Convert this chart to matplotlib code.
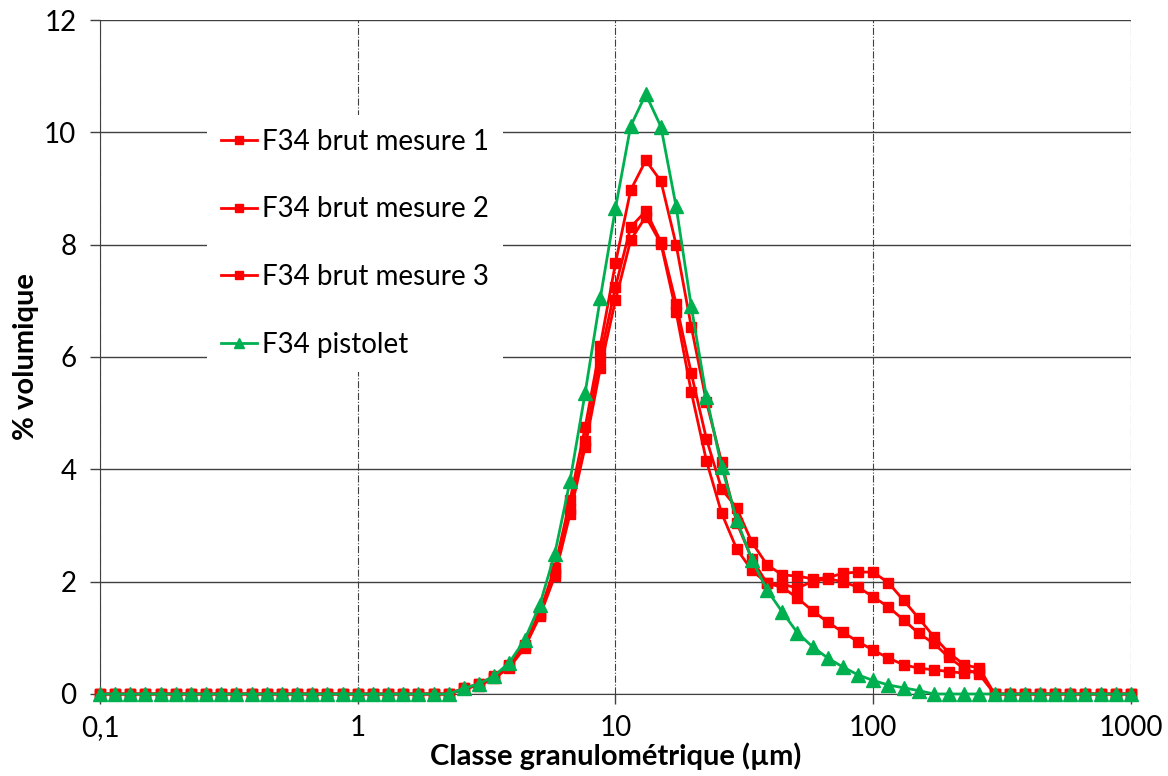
import matplotlib
matplotlib.use('Agg')
import matplotlib.pyplot as plt
from matplotlib.ticker import NullLocator

plt.rcParams['font.family'] = ['Lato', 'DejaVu Sans']

# particle size classes (µm), log spaced
classes = [
    0.1, 0.1145, 0.1311, 0.1501, 0.1719, 0.1968, 0.2254, 0.2581, 0.2955, 0.3384,
    0.3875, 0.4437, 0.508, 0.5817, 0.6661, 0.7627, 0.8733,
    1.0, 1.145, 1.311, 1.501, 1.719, 1.968, 2.254, 2.581, 2.955, 3.384,
    3.875, 4.437, 5.08, 5.817, 6.661, 7.627, 8.733,
    10.0, 11.45, 13.11, 15.01, 17.19, 19.68, 22.54, 25.81, 29.55, 33.84,
    38.75, 44.37, 50.8, 58.17, 66.61, 76.27, 87.33,
    100.0, 114.5, 131.1, 150.1, 171.9, 196.8, 225.4, 258.1, 295.5, 338.4,
    387.5, 443.7, 508.0, 581.7, 666.1, 762.7, 873.3,
    1000.0,
]

brut_1 = [
    0, 0, 0, 0, 0, 0, 0, 0, 0, 0, 0, 0, 0, 0, 0, 0, 0,
    0, 0, 0, 0, 0, 0, 0, 0.10, 0.18, 0.32, 0.52, 0.88, 1.45, 2.25, 3.45, 4.75, 6.2,
    7.67, 8.97, 9.5, 9.13, 8.0, 6.54, 5.2, 4.13, 3.05, 2.4, 1.97, 1.9, 1.71, 1.48, 1.28, 1.1, 0.93,
    0.78, 0.64, 0.52, 0.46, 0.43, 0.40, 0.37, 0.42, 0, 0, 0, 0, 0, 0, 0, 0, 0,
    0,
]
brut_2 = [
    0, 0, 0, 0, 0, 0, 0, 0, 0, 0, 0, 0, 0, 0, 0, 0, 0,
    0, 0, 0, 0, 0, 0, 0, 0.08, 0.17, 0.30, 0.50, 0.85, 1.40, 2.15, 3.3, 4.5, 6.0,
    7.25, 8.31, 8.6, 8.05, 6.95, 5.71, 4.54, 3.65, 3.31, 2.7, 2.3, 2.12, 2.1, 2.05, 2.07, 2.15, 2.17,
    2.17, 1.98, 1.67, 1.35, 1.02, 0.73, 0.52, 0.46, 0, 0, 0, 0, 0, 0, 0, 0, 0,
    0,
]
brut_3 = [
    0, 0, 0, 0, 0, 0, 0, 0, 0, 0, 0, 0, 0, 0, 0, 0, 0,
    0, 0, 0, 0, 0, 0, 0, 0.10, 0.15, 0.28, 0.47, 0.82, 1.38, 2.1, 3.2, 4.4, 5.8,
    7.01, 8.08, 8.5, 8.02, 6.8, 5.38, 4.15, 3.22, 2.58, 2.2, 1.97, 1.95, 1.89, 2.0, 2.05, 2.0, 1.9,
    1.73, 1.55, 1.32, 1.08, 0.9, 0.65, 0.45, 0.35, 0, 0, 0, 0, 0, 0, 0, 0, 0,
    0,
]
pistolet = [
    0, 0, 0, 0, 0, 0, 0, 0, 0, 0, 0, 0, 0, 0, 0, 0, 0,
    0, 0, 0, 0, 0, 0, 0, 0.10, 0.18, 0.32, 0.56, 0.96, 1.58, 2.5, 3.79, 5.36, 7.05,
    8.65, 10.11, 10.68, 10.1, 8.68, 6.9, 5.29, 4.05, 3.1, 2.39, 1.85, 1.46, 1.09, 0.84, 0.64, 0.48, 0.34,
    0.24, 0.16, 0.11, 0.06, 0, 0, 0, 0, 0, 0, 0, 0, 0, 0, 0, 0, 0,
    0,
]

x_ticks = [0.1, 1, 10, 100, 1000]
x_tick_labels = ['0,1', '1', '10', '100', '1000']
y_ticks = [0, 2, 4, 6, 8, 10, 12]

fig = plt.figure(figsize=(11.68, 7.76), dpi=100)
ax = fig.add_axes([0.0856, 0.1057, 0.8827, 0.8685])

red = '#ff0000'
green = '#00b050'
for serie, label in ((brut_1, 'F34 brut mesure 1'),
                     (brut_2, 'F34 brut mesure 2'),
                     (brut_3, 'F34 brut mesure 3')):
    ax.plot(classes, serie, color=red, lw=2, marker='s', markersize=7.5,
            label=label, zorder=3, clip_on=False)
ax.plot(classes, pistolet, color=green, lw=2, marker='^', markersize=9.5,
        label='F34 pistolet', zorder=4, clip_on=False)

ax.set_xscale('log')
ax.set_xlim(0.1, 1000)
ax.set_ylim(0, 12)
ax.set_xticks(x_ticks)
ax.set_xticklabels(x_tick_labels)
ax.xaxis.set_minor_locator(NullLocator())
ax.set_yticks(y_ticks)

ax.yaxis.grid(True, color='#404040', lw=1, linestyle='-', zorder=0)
ax.xaxis.grid(True, color='#404040', lw=0.8, linestyle='-.', zorder=0)
ax.set_axisbelow(True)

for side in ('top', 'right'):
    ax.spines[side].set_visible(False)
for side in ('left', 'bottom'):
    ax.spines[side].set_color('#404040')

ax.tick_params(axis='both', direction='out', length=7, width=1,
               color='#404040', labelsize=20)
ax.tick_params(axis='y', pad=10)
ax.tick_params(axis='x', pad=8)

ax.set_xlabel('Classe granulométrique (µm)', fontsize=21, fontweight='bold', labelpad=1)
ax.set_ylabel('% volumique', fontsize=21, fontweight='bold', labelpad=4)

leg = ax.legend(loc='upper left', bbox_to_anchor=(0.09, 0.88), fontsize=20,
                frameon=True, facecolor='white', edgecolor='none', framealpha=1,
                fancybox=False, labelspacing=1.5, handlelength=1.3,
                handletextpad=0.2, markerscale=0.7, borderpad=0.5)
leg.set_zorder(5)

fig.savefig('out.png', dpi=100)
